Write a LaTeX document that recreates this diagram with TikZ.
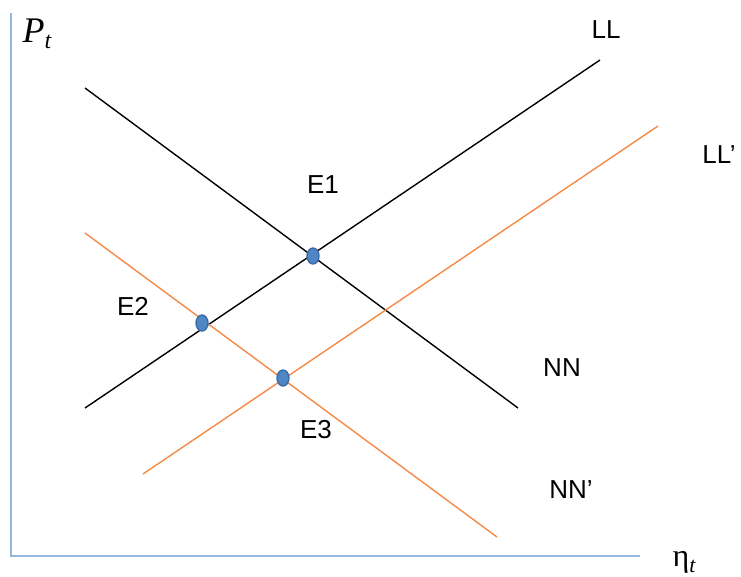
\documentclass[tikz,border=0pt]{standalone}
\usepackage{fontspec}
\setmainfont{Liberation Sans}
\newfontfamily\grkserif{Liberation Serif}
\usetikzlibrary{shapes.geometric}
\definecolor{axisblue}{HTML}{95B6E0}
\definecolor{curveorange}{HTML}{F48A45}
\definecolor{dotfill}{HTML}{4F86C6}
\definecolor{dotdraw}{HTML}{3A6BA5}
\begin{document}
\begin{tikzpicture}[x=1pt,y=-1pt,
  axisline/.style={draw=axisblue,line width=1.8pt},
  blackcurve/.style={draw=black,line width=1.4pt},
  orangecurve/.style={draw=curveorange,line width=1.4pt},
  dot/.style={ellipse,fill=dotfill,draw=dotdraw,line width=1.4pt,minimum width=12pt,minimum height=16pt,inner sep=0pt},
  lbl/.style={font=\fontsize{26}{30}\selectfont,inner sep=0pt}]
\useasboundingbox (0,0) rectangle (741,576);
% axes
\coordinate (ytop) at (11,13);
\coordinate (orig) at (11,556);
\coordinate (xend) at (640,556);
\draw[axisline] (ytop) -- (orig) -- (xend);
\node[inner sep=0pt,font=\fontsize{36}{40}\selectfont] (py) at (37,34) {{\grkserif\itshape P}\raisebox{-6pt}{\fontsize{24}{28}\selectfont\grkserif\itshape t}};
\node[inner sep=0pt,font=\fontsize{32}{36}\selectfont] (px) at (684,562) {{\grkserif η}\raisebox{-6pt}{\fontsize{22}{26}\selectfont\grkserif\itshape t}};
% curves
\coordinate (LLa) at (85,408); \coordinate (LLb) at (600,60);
\coordinate (NNa) at (85,88); \coordinate (NNb) at (518,408);
\coordinate (LPa) at (143,474); \coordinate (LPb) at (658,126);
\coordinate (NPa) at (85,233); \coordinate (NPb) at (497,537);
\draw[blackcurve] (LLa) -- (LLb);
\draw[blackcurve] (NNa) -- (NNb);
\draw[orangecurve] (LPa) -- (LPb);
\draw[orangecurve] (NPa) -- (NPb);
% equilibria
\node[dot] (e1) at (313,256) {};
\node[dot] (e2) at (202,323) {};
\node[dot] (e3) at (283,378) {};
% labels
\node[lbl] (tLL) at (606,30) {LL};
\node[lbl] (tLLp) at (719,155) {LL’};
\node[lbl] (tE1) at (323,185) {E1};
\node[lbl] (tE2) at (133,306) {E2};
\node[lbl] (tNN) at (562,368) {NN};
\node[lbl] (tE3) at (316,430) {E3};
\node[lbl] (tNNp) at (571,490) {NN’};
\end{tikzpicture}
\end{document}
